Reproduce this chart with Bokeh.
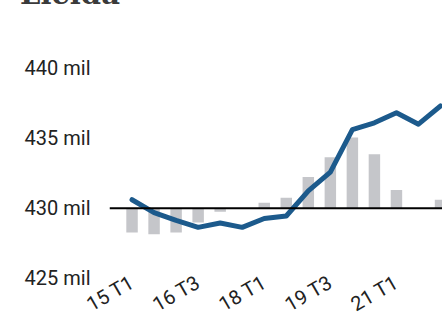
import math
from bokeh.plotting import figure
from bokeh.layouts import column
from bokeh.models import FixedTicker, Range1d, Span, Div, ColumnDataSource
from bokeh.embed import file_html
from bokeh.resources import INLINE

# Data (semiannual, thousands of people)
periods = ["15 T1", "15 T3", "16 T1", "16 T3", "17 T1", "17 T3", "18 T1", "18 T3",
           "19 T1", "19 T3", "20 T1", "20 T3", "21 T1", "21 T3", "22 T1"]
population = [430.60, 429.68, 429.12, 428.63, 428.94, 428.63, 429.26, 429.44,
              431.23, 432.57, 435.60, 436.09, 436.80, 435.99, 437.29]
change = [-1.73, -1.87, -1.73, -1.02, -0.25, 0.0, 0.39, 0.74,
          2.22, 3.63, 5.04, 3.84, 1.30, 0.0, 0.60]
baseline = 430
y_ticks = [425, 430, 435, 440]
tick_every = 3
title_text = "Lleida"

idx = list(range(len(periods)))
src = ColumnDataSource(dict(
    x=idx,
    pop=population,
    top=[baseline + c for c in change],
    bottom=[baseline] * len(change),
))

# top strip holding the title (cropped at the top edge, as in the reference)
head = Div(
    text=('<div style="position:relative; top:-20px; left:20px; '
          "font-family:'DejaVu Serif'; font-weight:bold; font-size:29px; "
          f'line-height:29px; color:#3a3a3a; white-space:nowrap">{title_text}</div>'),
    width=442, height=30, margin=0,
)

p = figure(width=442, height=300, output_backend="svg", toolbar_location=None,
           x_range=Range1d(-1.023, 14.09), y_range=Range1d(424.98, 442.672),
           min_border_left=109, min_border_right=0, min_border_top=0, min_border_bottom=52)
p.outline_line_color = None
p.grid.visible = False
p.background_fill_color = "white"
p.border_fill_color = "white"

p.vbar(x="x", width=0.52, top="top", bottom="bottom", source=src,
       fill_color="#c5c6ca", line_color=None)
p.add_layout(Span(location=baseline, dimension="width", line_color="black", line_width=2))
p.line(x="x", y="pop", source=src, line_color="#1c5a8c", line_width=5,
       line_join="round", line_cap="round")

# y axis
ya = p.yaxis[0]
ya.ticker = FixedTicker(ticks=y_ticks)
ya.major_label_overrides = {t: f"{t} mil" for t in y_ticks}
ya.axis_line_color = None
ya.major_tick_line_color = None
ya.minor_tick_line_color = None
ya.major_tick_in = 0
ya.major_tick_out = 0
ya.major_label_standoff = 19
ya.major_label_text_font = "Roboto"
ya.major_label_text_font_size = "20px"
ya.major_label_text_color = "#222222"

# x axis
xa = p.xaxis[0]
xticks = idx[::tick_every]
xa.ticker = FixedTicker(ticks=xticks)
xa.major_label_overrides = {i: periods[i] for i in xticks}
xa.major_label_orientation = math.pi / 6
xa.axis_line_color = None
xa.major_tick_line_color = None
xa.minor_tick_line_color = None
xa.major_tick_in = 0
xa.major_tick_out = 0
xa.major_label_standoff = 2
xa.major_label_text_font = "Roboto"
xa.major_label_text_font_size = "20px"
xa.major_label_text_color = "#222222"

layout = column(head, p, spacing=0)
open("out.html", "w").write(file_html(layout, INLINE))
